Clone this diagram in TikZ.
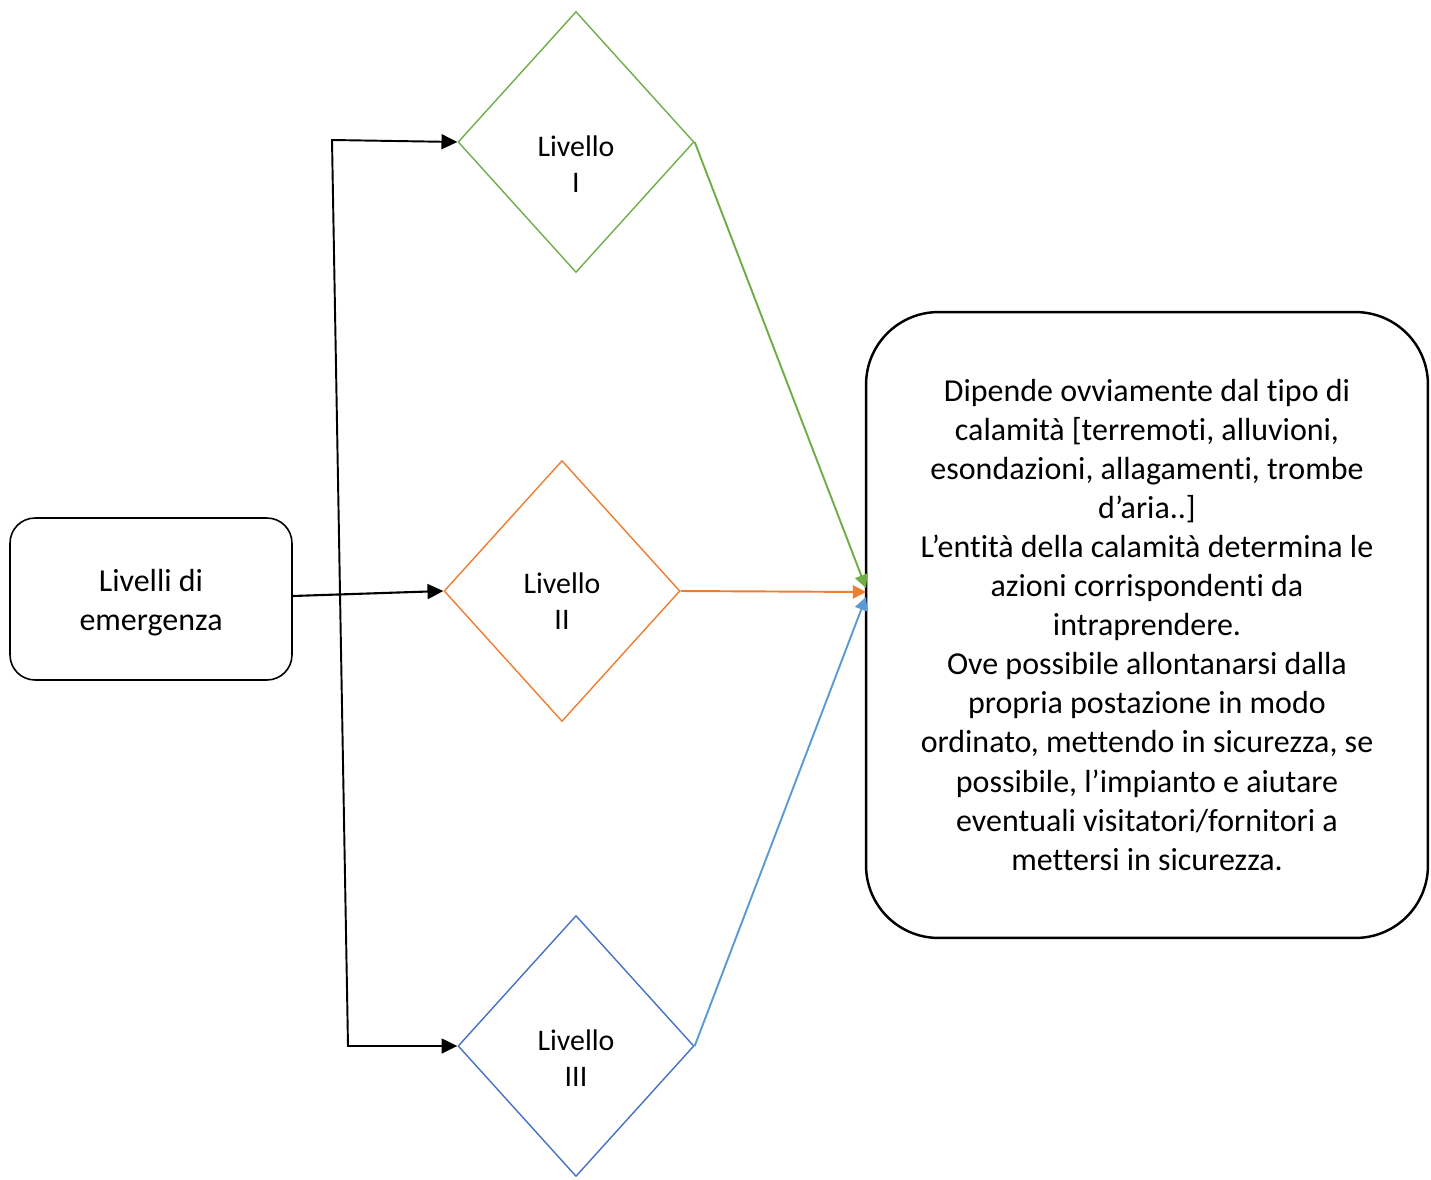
\documentclass[tikz,border=0pt]{standalone}
\usepackage{fontspec}
\setmainfont{Carlito}[RawFeature={-liga;-clig;-calt}]
\usepackage{tikz}
\usetikzlibrary{shapes.geometric,arrows.meta}
\definecolor{lvgreen}{RGB}{112,173,71}
\definecolor{lvorange}{RGB}{237,125,49}
\definecolor{lvblue}{RGB}{68,114,196}
\definecolor{lvlightblue}{RGB}{91,155,213}

\begin{document}
\begin{tikzpicture}[x=0.02cm,y=-0.02cm,
  font=\fontsize{18.2}{22.2}\selectfont,
  rbox/.style={draw, rounded corners=0.5cm, line width=0.9pt, minimum width=5.64cm, minimum height=3.24cm, align=center},
  infobox/.style={draw, rounded corners=1.45cm, line width=1.4pt, minimum width=11.24cm, minimum height=12.52cm, align=center},
  level/.style={draw, diamond, line width=0.8pt, inner sep=0pt, minimum width=4.72cm, minimum height=5.22cm},
  lvtext/.style={align=center, font=\fontsize{17}{20.4}\selectfont},
  tip/.style={-{Triangle[length=9pt,width=8.5pt]}},
  ctip/.style={-{Triangle[length=7.5pt,width=7.5pt]}}]
\useasboundingbox (0,0) rectangle (1431,1180);
% boxes
\node[rbox, label={[align=center,yshift=-0.08cm]center:Livelli di\\emergenza}] (start) at (151,599) {};
\node[infobox] (info) at (1147,625) {Dipende ovviamente dal tipo di\\calamità [terremoti, alluvioni,\\esondazioni, allagamenti, trombe\\d’aria..]\\L’entità della calamità determina le\\azioni corrispondenti da\\intraprendere.\\Ove possibile allontanarsi dalla\\propria postazione in modo\\ordinato, mettendo in sicurezza, se\\possibile, l’impianto e aiutare\\eventuali visitatori/fornitori a\\mettersi in sicurezza.};
% levels
\node[level, draw=lvgreen, label={[lvtext,yshift=-0.44cm]center:Livello\\I}] (lv1) at (576,142) {};
\node[level, draw=lvorange, label={[lvtext,yshift=-0.2cm]center:Livello\\II}] (lv2) at (562,591) {};
\node[level, draw=lvblue, label={[lvtext,yshift=-0.24cm]center:Livello\\III}] (lv3) at (576,1046) {};
\coordinate (top) at (332,140);
\coordinate (bot) at (348,1046);
\coordinate (in1) at (866,588);
\coordinate (in2) at (866,592);
\coordinate (in3) at (866,597);
% connectors
\draw[tip, line width=1.2pt] ([yshift=0.06cm]start.east) -- (lv2.west);
\draw[{Triangle[length=9pt,width=8.5pt]}-{Triangle[length=9pt,width=8.5pt]}, line width=1.1pt] (lv1.west) -- (top) -- (bot) -- (lv3.west);
\draw[ctip, line width=1.1pt, lvgreen] (lv1.east) -- (in1);
\draw[ctip, line width=1.1pt, lvorange] (lv2.east) -- (in2);
\draw[ctip, line width=1.1pt, lvlightblue] (lv3.east) -- (in3);
\end{tikzpicture}
\end{document}
